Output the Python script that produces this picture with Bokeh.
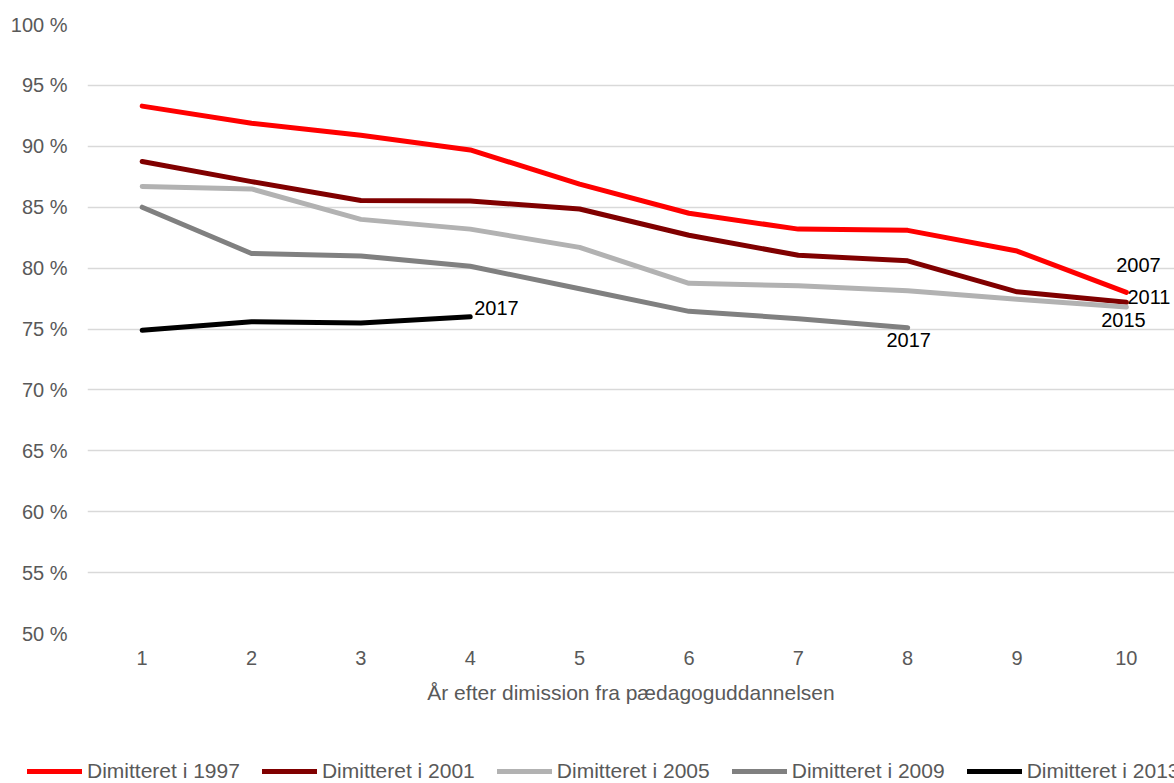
from bokeh.plotting import figure
from bokeh.layouts import column
from bokeh.models import Range1d, FixedTicker, Legend, LegendItem
from bokeh.core.properties import value
from bokeh.embed import file_html
from bokeh.resources import INLINE

years = [1, 2, 3, 4, 5, 6, 7, 8, 9, 10]
series_names = ["Dimitteret i 1997", "Dimitteret i 2001", "Dimitteret i 2005",
                "Dimitteret i 2009", "Dimitteret i 2013"]
s1997 = [93.3, 91.9, 90.9, 89.7, 86.9, 84.5, 83.2, 83.1, 81.4, 78.0]
s2001 = [88.75, 87.1, 85.55, 85.5, 84.85, 82.7, 81.05, 80.6, 78.05, 77.2]
s2005 = [86.7, 86.5, 84.0, 83.2, 81.7, 78.75, 78.55, 78.15, 77.45, 76.8]
s2009 = [85.0, 81.2, 81.0, 80.15, 78.3, 76.45, 75.85, 75.1]
s2013 = [74.9, 75.6, 75.5, 76.0]
end_labels = ["2007", "2011", "2015", "2017", "2017"]
y_ticks = [50, 55, 60, 65, 70, 75, 80, 85, 90, 95, 100]
x_title = "År efter dimission fra pædagoguddannelsen"

all_series = [s1997, s2001, s2005, s2009, s2013]
colors = ["#FF0000", "#800000", "#B2B2B2", "#808080", "#000000"]
FONT = "Liberation Sans"
TXT = "#595959"

p = figure(width=1174, height=743,
           min_border_left=87, min_border_right=0, min_border_top=24,
           min_border_bottom=110, output_backend="svg", toolbar_location=None,
           x_range=Range1d(0.5, 10.44), y_range=Range1d(50, 100))
p.frame_align = False
p.outline_line_color = None
p.background_fill_color = "white"
p.border_fill_color = "white"

p.xgrid.grid_line_color = None
p.ygrid.grid_line_color = "#D9D9D9"
p.ygrid.grid_line_width = 1.5

p.yaxis.ticker = FixedTicker(ticks=y_ticks)
p.yaxis.major_label_overrides = {t: f"{t} %" for t in y_ticks}
p.xaxis.ticker = FixedTicker(ticks=years)
for ax in (p.xaxis, p.yaxis):
    ax.axis_line_color = None
    ax.major_tick_line_color = None
    ax.minor_tick_line_color = None
    ax.major_tick_out = 0
    ax.major_tick_in = 0
    ax.minor_tick_out = 0
    ax.major_label_text_font = FONT
    ax.major_label_text_font_size = "20px"
    ax.major_label_text_color = TXT
p.yaxis.major_label_standoff = 20
p.xaxis.major_label_standoff = 17
p.xaxis.axis_label = x_title
p.xaxis.axis_label_text_font = FONT
p.xaxis.axis_label_text_font_size = "21px"
p.xaxis.axis_label_text_font_style = "normal"
p.xaxis.axis_label_text_color = TXT
p.xaxis.axis_label_standoff = 13

for ys, c in zip(all_series, colors):
    p.line(years[:len(ys)], ys, line_color=c, line_width=5,
           line_cap="round", line_join="round")

# end-of-series data labels
lab_x = [years[len(s) - 1] for s in all_series]
lab_y = [s[-1] for s in all_series]
offs = [(12, -27, "center"), (1, -5, "left"), (-3, 13, "center"), (4, -9, "left"), (1, 12, "center")]
order = [0, 1, 2, 4, 3]
for i, (xo, yo, al) in enumerate(offs):
    k = order[i]
    p.text(x=[lab_x[k]], y=[lab_y[k]], text=[end_labels[i]], x_offset=xo, y_offset=yo,
           text_align=al, text_baseline="alphabetic", text_font=value(FONT),
           text_font_size="20px", text_color="black")

# legend strip below the chart (series drawn out of its visible range, only keys show)
lg = figure(width=1174, height=40, min_border=0, output_backend="svg",
            toolbar_location=None, x_range=Range1d(0, 1), y_range=Range1d(0, 1),
            x_axis_location=None, y_axis_location=None)
lg.frame_align = False
lg.outline_line_color = None
lg.grid.visible = False
items = []
for name, ys, c in zip(series_names, all_series, colors):
    r = lg.line(years[:len(ys)], ys, line_color=c, line_width=5, line_cap="round")
    items.append(LegendItem(label=name, renderers=[r]))
legend = Legend(items=items, orientation="horizontal", location=(27, 0),
                padding=0, margin=0, spacing=22, glyph_width=55, glyph_height=20,
                label_standoff=5, label_width=152, label_height=20,
                label_text_font=FONT, label_text_font_size="21px",
                label_text_color=TXT, border_line_color=None,
                background_fill_alpha=0)
lg.add_layout(legend, "center")

open("out.html", "w").write(file_html(column(p, lg, spacing=0), INLINE))
